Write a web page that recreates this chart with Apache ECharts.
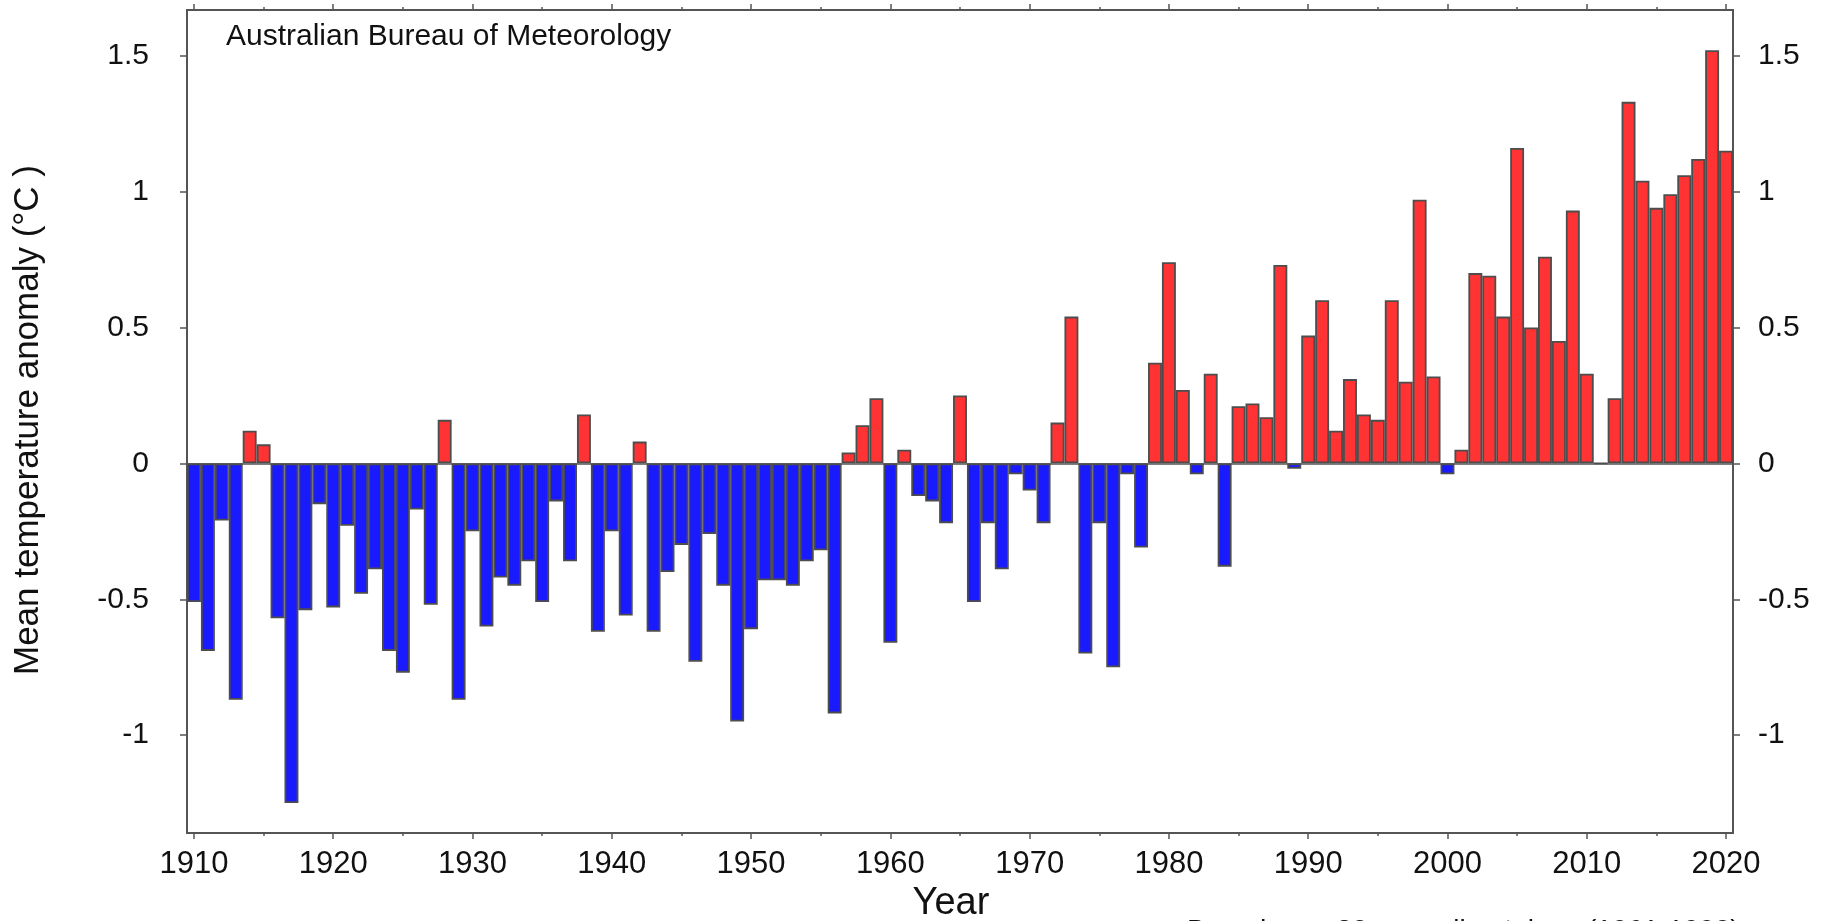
<!DOCTYPE html>
<html>
<head>
<meta charset="utf-8">
<script src="https://cdn.jsdelivr.net/npm/echarts@6/dist/echarts.min.js"></script>
<style>
html,body{margin:0;padding:0;background:#fff;}
#chart{width:1841px;height:921px;}
</style>
</head>
<body>
<div id="chart"></div>
<script>
const years = [
  1910,1911,1912,1913,1914,1915,1916,1917,1918,1919,
  1920,1921,1922,1923,1924,1925,1926,1927,1928,1929,
  1930,1931,1932,1933,1934,1935,1936,1937,1938,1939,
  1940,1941,1942,1943,1944,1945,1946,1947,1948,1949,
  1950,1951,1952,1953,1954,1955,1956,1957,1958,1959,
  1960,1961,1962,1963,1964,1965,1966,1967,1968,1969,
  1970,1971,1972,1973,1974,1975,1976,1977,1978,1979,
  1980,1981,1982,1983,1984,1985,1986,1987,1988,1989,
  1990,1991,1992,1993,1994,1995,1996,1997,1998,1999,
  2000,2001,2002,2003,2004,2005,2006,2007,2008,2009,
  2010,2011,2012,2013,2014,2015,2016,2017,2018,2019,2020
];
const anomaly = [
  -0.51, -0.69, -0.21, -0.87, 0.12, 0.07, -0.57, -1.25, -0.54, -0.15,
  -0.53, -0.23, -0.48, -0.39, -0.69, -0.77, -0.17, -0.52, 0.16, -0.87,
  -0.25, -0.60, -0.42, -0.45, -0.36, -0.51, -0.14, -0.36, 0.18, -0.62,
  -0.25, -0.56, 0.08, -0.62, -0.40, -0.30, -0.73, -0.26, -0.45, -0.95,
  -0.61, -0.43, -0.43, -0.45, -0.36, -0.32, -0.92, 0.04, 0.14, 0.24,
  -0.66, 0.05, -0.12, -0.14, -0.22, 0.25, -0.51, -0.22, -0.39, -0.04,
  -0.10, -0.22, 0.15, 0.54, -0.70, -0.22, -0.75, -0.04, -0.31, 0.37,
  0.74, 0.27, -0.04, 0.33, -0.38, 0.21, 0.22, 0.17, 0.73, -0.02,
  0.47, 0.60, 0.12, 0.31, 0.18, 0.16, 0.60, 0.30, 0.97, 0.32,
  -0.04, 0.05, 0.70, 0.69, 0.54, 1.16, 0.50, 0.76, 0.45, 0.93,
  0.33, 0, 0.24, 1.33, 1.04, 0.94, 0.99, 1.06, 1.12, 1.52, 1.15
];
const yTickValues = [-1, -0.5, 0, 0.5, 1, 1.5];
const majorYearTicks = [1910,1920,1930,1940,1950,1960,1970,1980,1990,2000,2010,2020];
const minorYearTicks = [1915,1925,1935,1945,1955,1965,1975,1985,1995,2005,2015];
const texts = {
  source: 'Australian Bureau of Meteorology',
  xName: 'Year',
  yName: 'Mean temperature anomaly (°C )',
  note: 'Based on a 30-year climatology (1961-1990)'
};

const FONT = "'Liberation Sans', Arial, sans-serif";
const AX = '#555555';
const Y_MIN = -1.36, Y_MAX = 1.668;
const X_MIN = 1909.5, X_MAX = 2020.5;

function valueX(position, ticks, len, labels) {
  return {
    type: 'value', position: position, min: X_MIN, max: X_MAX,
    axisLine: { show: true, onZero: false, lineStyle: { color: AX, width: 2 } },
    axisTick: { show: true, inside: false, customValues: ticks, length: len, lineStyle: { color: AX, width: 1.5 } },
    axisLabel: labels ? {
      show: true, customValues: ticks, fontSize: 31, fontFamily: FONT, color: '#111', margin: 16,
      formatter: function (v) { return String(Math.round(v)); }
    } : { show: false },
    splitLine: { show: false }
  };
}
function valueY(position, margin) {
  return {
    type: 'value', position: position, min: Y_MIN, max: Y_MAX,
    axisLine: { show: true, onZero: false, lineStyle: { color: AX, width: 2 } },
    axisTick: { show: true, inside: false, customValues: yTickValues, length: 7, lineStyle: { color: AX, width: 1.5 } },
    axisLabel: {
      show: true, customValues: yTickValues, fontSize: 30, fontFamily: FONT, color: '#111', margin: margin,
      formatter: function (v) { return String(v); }
    },
    splitLine: { show: false }
  };
}

const chart = echarts.init(document.getElementById('chart'), null, { renderer: 'canvas' });
chart.setOption({
  animation: false,
  backgroundColor: '#ffffff',
  grid: { left: 187, right: 108, top: 10, bottom: 88 },
  xAxis: [
    {
      type: 'category', data: years, position: 'bottom', boundaryGap: true,
      axisLine: { show: true, onZero: true, lineStyle: { color: AX, width: 1.5 } },
      axisTick: { show: false }, axisLabel: { show: false }, splitLine: { show: false }
    },
    valueX('bottom', majorYearTicks, 6, true),
    valueX('bottom', minorYearTicks, 3, false),
    valueX('top', majorYearTicks, 6, false),
    valueX('top', minorYearTicks, 3, false)
  ],
  yAxis: [valueY('left', 38), valueY('right', 25)],
  series: [{
    type: 'bar',
    xAxisIndex: 0, yAxisIndex: 0,
    data: anomaly,
    barCategoryGap: '0%',
    itemStyle: {
      color: function (p) { return p.value >= 0 ? '#ff3333' : '#1a1aff'; },
      borderColor: '#4d4d4d', borderWidth: 1.8
    },
    emphasis: { disabled: true }
  }],
  graphic: [
    { type: 'text', left: 226, top: 22, style: { text: texts.source, fontSize: 30, fontFamily: FONT, fill: '#111' } },
    { type: 'text', x: 951, y: 904, style: { text: texts.xName, fontSize: 38, fontFamily: FONT, fill: '#111', align: 'center', verticalAlign: 'middle' } },
    { type: 'text', x: 28, y: 420, rotation: Math.PI / 2, style: { text: texts.yName, fontSize: 35, fontFamily: FONT, fill: '#111', align: 'center', verticalAlign: 'middle' } },
    { type: 'text', x: 1187, y: 917, style: { text: texts.note, fontSize: 28, fontFamily: FONT, fill: '#111', align: 'left', verticalAlign: 'top' } }
  ]
});
</script>
</body>
</html>
